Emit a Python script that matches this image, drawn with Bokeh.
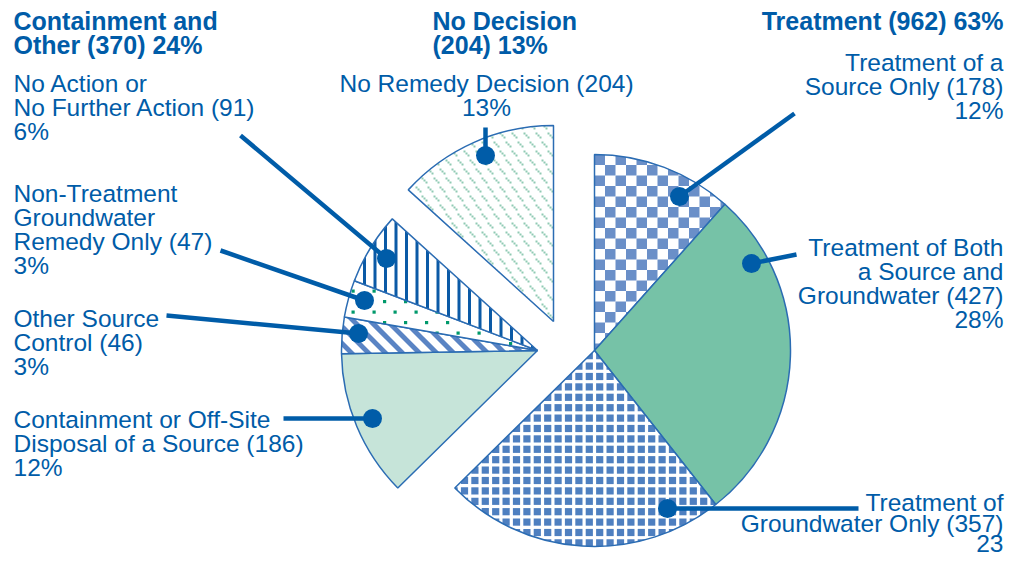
from bokeh.plotting import figure
from bokeh.models import Range1d
from bokeh.embed import file_html
from bokeh.resources import INLINE
from bokeh.core.properties import value
import math

# ---------------- data ----------------
slice_names = [
    "Treatment of a Source Only",
    "Treatment of Both a Source and Groundwater",
    "Treatment of Groundwater Only",
    "Containment or Off-Site Disposal of a Source",
    "Other Source Control",
    "Non-Treatment Groundwater Remedy Only",
    "No Action or No Further Action",
    "No Remedy Decision",
]
slice_counts = [178, 427, 357, 186, 46, 47, 91, 204]
slice_group = [0, 0, 0, 1, 1, 1, 1, 2]
group_names = ["Treatment", "Containment and Other", "No Decision"]
group_counts = [962, 370, 204]
group_pcts = [63, 24, 13]

label_lines = [
    ["Treatment of a", "Source Only (178)", "12%"],
    ["Treatment of Both", "a Source and", "Groundwater (427)", "28%"],
    ["Treatment of", "Groundwater Only (357)", "23"],
    ["Containment or Off-Site", "Disposal of a Source (186)", "12%"],
    ["Other Source", "Control (46)", "3%"],
    ["Non-Treatment", "Groundwater", "Remedy Only (47)", "3%"],
    ["No Action or", "No Further Action (91)", "6%"],
    ["No Remedy Decision (204)", "13%"],
]
header_lines = [
    ["Treatment (962) 63%"],
    ["Containment and", "Other (370) 24%"],
    ["No Decision", "(204) 13%"],
]

# ---------------- layout / style ----------------
W, H = 1005, 559
TXT = "#005ca8"
EDGE = "#2b6cb3"
FONT = "Liberation Sans"
FS, FSB = "24.5px", "25px"
R = 196
group_center = [(594, 350), (537, 350), (553, 321)]

# x, vertical text centres, align
label_anchor = [
    (1003, [62, 86, 110], "right"),
    (1003, [247, 271, 295, 319], "right"),
    (1003, [502, 523, 543], "right"),
    (13, [419, 443, 467], "left"),
    (13, [318, 342, 366], "left"),
    (13, [193, 217, 241, 265], "left"),
    (13, [83, 107, 131], "left"),
    (486, [83, 107], "center"),
]
header_anchor = [(1003, [20], "right"), (13, [20, 44], "left"), (432, [20, 44], "left")]
leader = [  # line start (near text) -> dot
    ((794, 113), (679, 196)),
    ((796, 254), (751, 263)),
    ((858, 508), (667, 508)),
    ((283, 418), (372, 418)),
    ((166, 315), (358, 333)),
    ((220, 250), (364, 300)),
    ((240, 135), (386, 258)),
    ((485, 127), (485, 155)),
]


# ---------------- texture helpers (pattern tiles clipped to a sector) ----------------
def sector_poly(cx, cy, r, a_lo, a_hi, n=72):
    pts = [(cx, cy)]
    for k in range(n + 1):
        t = a_lo + (a_hi - a_lo) * k / n
        pts.append((cx + r * math.cos(t), cy - r * math.sin(t)))
    return pts


def clip(subject, clipper):
    n = len(clipper)
    area = sum(clipper[i][0] * clipper[(i + 1) % n][1] - clipper[(i + 1) % n][0] * clipper[i][1] for i in range(n))
    sg = 1.0 if area > 0 else -1.0

    def side(p, a, b):
        return sg * ((b[0] - a[0]) * (p[1] - a[1]) - (b[1] - a[1]) * (p[0] - a[0]))

    out = list(subject)
    for i in range(n):
        a, b = clipper[i], clipper[(i + 1) % n]
        if math.hypot(b[0] - a[0], b[1] - a[1]) < 1e-9:
            continue
        inp, out = out, []
        if not inp:
            break
        s = inp[-1]
        for e in inp:
            ds, de = side(s, a, b), side(e, a, b)
            if de >= 0:
                if ds < 0:
                    t = ds / (ds - de)
                    out.append((s[0] + t * (e[0] - s[0]), s[1] + t * (e[1] - s[1])))
                out.append(e)
            elif ds >= 0:
                t = ds / (ds - de)
                out.append((s[0] + t * (e[0] - s[0]), s[1] + t * (e[1] - s[1])))
            s = e
    return out


def rect(x, y, w, h):
    return [(x, y), (x + w, y), (x + w, y + h), (x, y + h)]


def tiles(kind, cx, cy, r):
    polys = []
    y_lo, y_hi = cy - r - 20, cy + r + 20
    if kind == "checker":
        s = 10.5
        for i in range(-20, 21):
            for j in range(-20, 41):
                if (i + j) % 2 == 0:
                    polys.append(rect(cx + i * s, cy - r + j * s, s, s))
    elif kind == "squares":
        s, g = 10.4, 7.2
        for i in range(-21, 22):
            for j in range(-21, 22):
                polys.append(rect(cx + i * s + 1.6, cy + j * s + 1.6, g, g))
    elif kind == "vlines":
        s = 10.5
        for i in range(-20, 21):
            polys.append(rect(cx + i * s + 4, y_lo, 3.0, y_hi - y_lo))
    elif kind == "diag":
        s, w = 17.0, 7.0
        hh = y_hi - y_lo
        for i in range(-40, 30):
            x0 = cx + i * s
            polys.append([(x0, y_lo), (x0 + w, y_lo), (x0 + w + hh, y_hi), (x0 + hh, y_hi)])
    elif kind == "dots":
        sx, sy = 21.0, 10.5
        for j in range(-20, 21):
            off = 0 if j % 2 == 0 else sx / 2
            for i in range(-12, 12):
                polys.append(rect(cx + i * sx + off + 3, cy + j * sy + 2, 3.2, 3.2))
    elif kind == "dashes":
        sx, sy = 12.0, 9.0
        for j in range(-24, 24):
            off = 0 if j % 2 == 0 else sx / 2
            for i in range(-18, 18):
                x, y = cx + i * sx + off, cy + j * sy
                for k in range(3):
                    polys.append(rect(x + 2 * k, y + 2 * k, 2.0, 2.0))
    return polys


styles = [
    dict(fill="white", tex="checker", tex_color="#6a8fc8"),
    dict(fill="#76c2a7", tex=None, tex_color=None),
    dict(fill="white", tex="squares", tex_color="#4e7fc0"),
    dict(fill="#c6e4d9", tex=None, tex_color=None),
    dict(fill="white", tex="diag", tex_color="#5a84c4"),
    dict(fill="white", tex="dots", tex_color="#00996b"),
    dict(fill="white", tex="vlines", tex_color="#0b5aa6"),
    dict(fill="white", tex="dashes", tex_color="#8fcab3"),
]

p = figure(width=W, height=H, x_range=Range1d(0, W), y_range=Range1d(H, 0),
           output_backend="svg", toolbar_location=None, x_axis_location=None,
           y_axis_location=None, min_border=0, outline_line_color=None)
p.grid.visible = False

total = sum(slice_counts)
cum = 0
for i, c in enumerate(slice_counts):
    a_hi = math.radians(90 - cum * 360.0 / total)
    a_lo = math.radians(90 - (cum + c) * 360.0 / total)
    cum += c
    cx, cy = group_center[slice_group[i]]
    st = styles[i]
    p.wedge(x=[cx], y=[cy], radius=R, start_angle=a_lo, end_angle=a_hi,
            fill_color=st["fill"], line_color=None)
    if st["tex"]:
        sec = sector_poly(cx, cy, R, a_lo, a_hi)
        xs, ys = [], []
        for poly in tiles(st["tex"], cx, cy, R):
            cp = clip(poly, sec)
            if len(cp) >= 3:
                xs.append([q[0] for q in cp])
                ys.append([q[1] for q in cp])
        p.patches(xs=xs, ys=ys, fill_color=st["tex_color"], line_color=None)
    p.wedge(x=[cx], y=[cy], radius=R, start_angle=a_lo, end_angle=a_hi,
            fill_color=None, line_color=EDGE, line_width=1.5)

for (x0, y0), (x1, y1) in leader:
    p.line(x=[x0, x1], y=[y0, y1], line_color=TXT, line_width=4.5)
    p.scatter(x=[x1], y=[y1], size=19, fill_color=TXT, line_color=None)


def put(lines, anchor, bold):
    x, ys, align = anchor
    p.text(x=[x] * len(lines), y=ys, text=lines, text_align=align,
           text_baseline="middle", text_font=value(FONT),
           text_font_size=FSB if bold else FS,
           text_color=TXT, text_font_style="bold" if bold else "normal")


for lines, anc in zip(label_lines, label_anchor):
    put(lines, anc, False)
for lines, anc in zip(header_lines, header_anchor):
    put(lines, anc, True)

open("out.html", "w").write(file_html(p, INLINE))
